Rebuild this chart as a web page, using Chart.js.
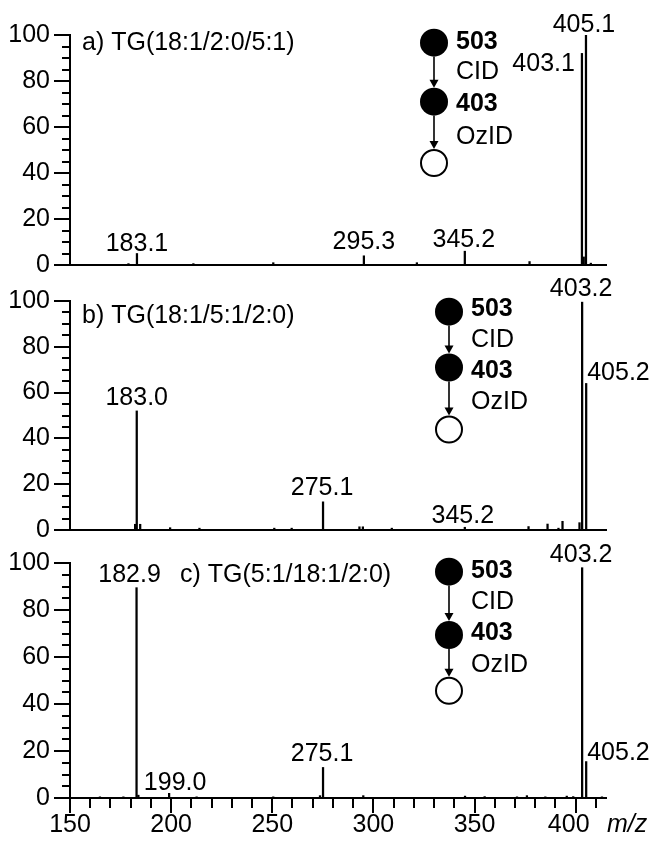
<!DOCTYPE html>
<html><head><meta charset="utf-8">
<script src="https://cdn.jsdelivr.net/npm/chart.js@4/dist/chart.umd.min.js"></script>
<style>
html,body{margin:0;padding:0;background:#fff;}
#wrap{position:relative;width:650px;height:841px;background:#fff;}
canvas{position:absolute;left:0;top:0;}
</style></head><body>
<div id="wrap">
<canvas id="ca" width="650" height="841"></canvas>
<canvas id="cb" width="650" height="841"></canvas>
<canvas id="cc" width="650" height="841"></canvas>
</div>
<script>
// ---------- data ----------
const xTickLabels = [150, 200, 250, 300, 350, 400];
const yTickLabels = [0, 20, 40, 60, 80, 100];

const mzA  = [178.9, 183.1, 211.0, 250.5, 295.3, 321.5, 345.2, 377.2, 403.1, 404.0, 405.1, 407.5];
const intA = [0.6,   5,     0.6,   1.0,   4,     1,     6,     1.5,   92,    3.5,   100,   0.8];

const mzB  = [182.2, 183.0, 184.7, 199.5, 214.0, 251.0, 259.6, 275.1, 293.1, 294.8, 309.1, 345.2, 376.7, 386.1, 391.5, 393.5, 401.9, 403.2, 405.2];
const intB = [2.5,   52,    2.5,   1,     0.8,   0.8,   0.8,   12.3,  1.4,   1.4,   0.8,   1.2,   1.5,   2.6,   0.8,   3.8,   3.2,   99.5,  64];

const mzC  = [164.8, 176.4, 182.9, 183.8, 199.0, 212.6, 250.5, 273.6, 275.1, 295.0, 345.3, 355.0, 371.0, 375.9, 385.0, 395.6, 398.8, 403.2, 405.2, 413.0];
const intC = [0.5,   0.5,   89.5,  1.2,   2,     0.5,   0.5,   1,     13,    1,     0.8,   0.6,   0.5,   1,     0.5,   0.8,   0.6,   98,    15.5,  0.5];

const annA = ['183.1', '295.3', '345.2', '403.1', '405.1'];
const annB = ['183.0', '275.1', '345.2', '403.2', '405.2'];
const annC = ['182.9', '199.0', '275.1', '403.2', '405.2'];

const panelTitles = ['a) TG(18:1/2:0/5:1)', 'b) TG(18:1/5:1/2:0)', 'c) TG(5:1/18:1/2:0)'];
const schemeTexts = ['503', 'CID', '403', 'OzID'];
const xAxisTitle = 'm/z';

// ---------- styles / placement ----------
const FONT = '"Liberation Sans", Arial, Helvetica, sans-serif';
const FS = 25;
Chart.defaults.font.family = FONT;
Chart.defaults.color = '#000';

const styleA = [{a:'center',dx:0,gap:3},{a:'center',dx:0,gap:7},{a:'center',dx:-1,gap:4},{a:'right',dx:-7,gap:-18},{a:'center',dx:-2,gap:3}];
const styleB = [{a:'center',dx:0,gap:6},{a:'center',dx:-1,gap:7},{a:'center',dx:-2,gap:4},{a:'center',dx:-1,gap:6},{a:'left',dx:1,gap:3}];
const styleC = [{a:'center',dx:-7,gap:6},{a:'center',dx:6,gap:3},{a:'center',dx:-1,gap:6},{a:'center',dx:-1,gap:6},{a:'left',dx:1,gap:2}];

const decorPlugin = {
  id: 'msDecor',
  afterDraw(chart, args, o) {
    const ctx = chart.ctx, xS = chart.scales.x, yS = chart.scales.y, ca = chart.chartArea;
    ctx.save();
    ctx.strokeStyle = '#000'; ctx.fillStyle = '#000';
    // y ticks (outward, majors longer)
    ctx.lineWidth = 2;
    for (let v = 0; v <= 100; v += 5) {
      const y = Math.round(yS.getPixelForValue(v));
      const len = v % 20 === 0 ? 16 : 8;
      ctx.beginPath(); ctx.moveTo(ca.left - len, y); ctx.lineTo(ca.left, y); ctx.stroke();
    }
    // x ticks (bottom panel only)
    if (o.xTicks) {
      for (let v = 150; v <= 410; v += 10) {
        const x = Math.round(xS.getPixelForValue(v));
        const len = v % 50 === 0 ? 15 : 10;
        ctx.beginPath(); ctx.moveTo(x, ca.bottom); ctx.lineTo(x, ca.bottom + len); ctx.stroke();
      }
      ctx.font = 'italic ' + FS + 'px ' + FONT;
      ctx.textAlign = 'left'; ctx.textBaseline = 'alphabetic';
      ctx.fillText(xAxisTitle, 607, 832);
    }
    // peak labels
    ctx.font = FS + 'px ' + FONT;
    ctx.textBaseline = 'alphabetic';
    const mz = o.mz, it = o.int;
    o.ann.forEach((t, i) => {
      const m = parseFloat(t);
      let best = 0;
      mz.forEach((v, j) => { if (Math.abs(v - m) < Math.abs(mz[best] - m)) best = j; });
      const st = o.style[i];
      const px = xS.getPixelForValue(mz[best]);
      const py = yS.getPixelForValue(it[best]);
      ctx.textAlign = st.a;
      ctx.fillText(t, px + st.dx, py - st.gap);
    });
    // panel title
    ctx.textAlign = 'left';
    ctx.fillText(o.title, o.titlePos[0], o.titlePos[1]);
    // MS^n scheme
    const d = o.scheme, r = 14;
    ctx.beginPath(); ctx.arc(d.cx, d.cy[0], r, 0, 2 * Math.PI); ctx.fill();
    ctx.beginPath(); ctx.arc(d.cx, d.cy[1], r, 0, 2 * Math.PI); ctx.fill();
    ctx.lineWidth = 2;
    ctx.beginPath(); ctx.arc(d.cx, d.cy[2], r - 1, 0, 2 * Math.PI); ctx.stroke();
    for (let k = 0; k < 2; k++) {
      const y0 = d.cy[k] + r, y1 = d.cy[k + 1] - r;
      ctx.lineWidth = 1.6;
      ctx.beginPath(); ctx.moveTo(d.cx, y0); ctx.lineTo(d.cx, y1 - 6); ctx.stroke();
      ctx.beginPath(); ctx.moveTo(d.cx - 4.5, y1 - 8); ctx.lineTo(d.cx + 4.5, y1 - 8); ctx.lineTo(d.cx, y1); ctx.closePath(); ctx.fill();
    }
    ctx.textBaseline = 'middle';
    schemeTexts.forEach((t, k) => {
      ctx.font = (k % 2 === 0 ? 'bold ' : '') + FS + 'px ' + FONT;
      ctx.fillText(t, d.cx + 22, d.ty[k]);
    });
    ctx.restore();
  }
};

function makeChart(id, cfg) {
  return new Chart(document.getElementById(id), {
    type: 'bar',
    data: {
      datasets: [{
        data: cfg.mz.map((m, i) => ({ x: m, y: cfg.int[i] })),
        backgroundColor: '#000', borderWidth: 0, barThickness: 1.6
      }]
    },
    options: {
      responsive: false, animation: false, devicePixelRatio: 1,
      events: [],
      layout: { padding: { top: cfg.top, bottom: cfg.padBottom, left: 0, right: 44 } },
      plugins: {
        legend: { display: false }, tooltip: { enabled: false },
        msDecor: cfg.decor
      },
      scales: {
        x: {
          type: 'linear', min: 150, max: 415, offset: false,
          grid: { display: false, drawTicks: false },
          border: { display: true, color: '#000', width: 2 },
          ticks: {
            display: cfg.showX, stepSize: 50, includeBounds: false, autoSkip: false,
            maxRotation: 0, minRotation: 0, padding: 12, color: '#000',
            font: { size: FS },
            callback: v => xTickLabels.includes(v) ? (v === 400 ? '400  ' : String(v)) : ''
          },
          afterFit: s => { s.height = cfg.xH; }
        },
        y: {
          min: 0, max: 100,
          grid: { display: false, drawTicks: false },
          border: { display: true, color: '#000', width: 2 },
          ticks: {
            stepSize: 20, padding: 20, color: '#000', font: { size: FS },
            callback: v => yTickLabels.includes(v) ? String(v) : ''
          },
          afterFit: s => { s.width = 70; }
        }
      }
    },
    plugins: [decorPlugin]
  });
}

makeChart('ca', {
  mz: mzA, int: intA, top: 33, padBottom: 841 - 265, xH: 0, showX: false,
  decor: { mz: mzA, int: intA, ann: annA, style: styleA, title: panelTitles[0], titlePos: [82, 50],
           xTicks: false, scheme: { cx: 434, cy: [42.7, 101.7, 163], ty: [42, 72.5, 104, 137] } }
});
makeChart('cb', {
  mz: mzB, int: intB, top: 301, padBottom: 841 - 530, xH: 0, showX: false,
  decor: { mz: mzB, int: intB, ann: annB, style: styleB, title: panelTitles[1], titlePos: [82, 323],
           xTicks: false, scheme: { cx: 449, cy: [311.7, 367.5, 429.5], ty: [309, 340, 371, 402] } }
});
makeChart('cc', {
  mz: mzC, int: intC, top: 563, padBottom: 0, xH: 841 - 798, showX: true,
  decor: { mz: mzC, int: intC, ann: annC, style: styleC, title: panelTitles[2], titlePos: [180, 582],
           xTicks: true, scheme: { cx: 449, cy: [571.7, 635, 690.8], ty: [571, 601.7, 633.4, 665] } }
});
</script>
</body></html>
